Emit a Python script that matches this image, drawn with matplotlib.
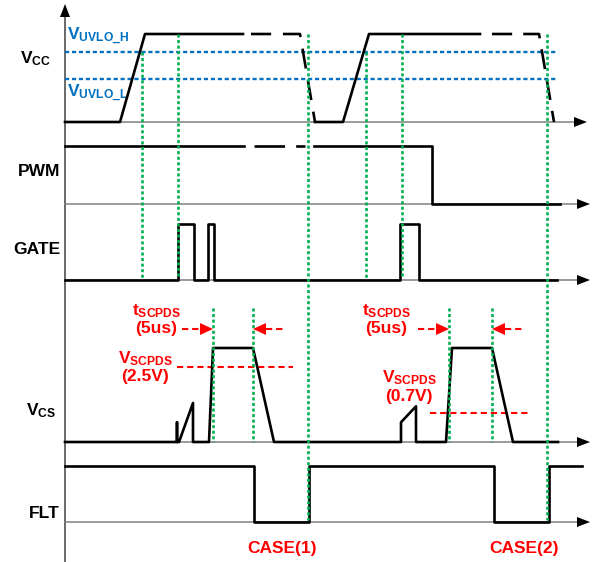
import matplotlib
matplotlib.use("Agg")
import matplotlib.pyplot as plt
from matplotlib.patches import Polygon

plt.rcParams['font.family'] = ['Liberation Sans', 'DejaVu Sans']
plt.rcParams['font.weight'] = 'bold'
plt.rcParams['mathtext.fontset'] = 'custom'
plt.rcParams['mathtext.bf'] = 'Liberation Sans:bold'
plt.rcParams['mathtext.rm'] = 'Liberation Sans:bold'
plt.rcParams['mathtext.it'] = 'Liberation Sans:bold'
plt.rcParams['lines.scale_dashes'] = False

# ---- waveform data: time along the diagram, level 0 = low, 1 = high ----
vcc_t = [65, 120, 145, 243]
vcc_l = [0, 0, 1, 1]
vcc_fade_t = [251, 300, 315]          # dashed part (supply going away)
vcc_fade_l = [1, 1, 0]
vcc2_t = [315, 343, 369, 480]
vcc2_l = [0, 0, 1, 1]
vcc2_fade_t = [492, 539, 554]
vcc2_fade_l = [1, 1, 0]
uvlo_levels = [0.795, 0.49]
uvlo_labels = [r'$\mathbf{V_{UVLO\_H}}$', r'$\mathbf{V_{UVLO\_L}}$']

pwm_t = [65, 244]
pwm_l = [1, 1]
pwm_dash_t = [254, 305]
pwm_dash_l = [1, 1]
pwm2_t = [314, 432, 432, 560]
pwm2_l = [1, 1, 0, 0]

gate_t = [65, 178, 178, 194, 194, 208, 208, 214, 214, 400, 400, 419, 419, 557]
gate_l = [0, 0, 1, 1, 0, 0, 1, 1, 0, 0, 1, 1, 0, 0]

vcs_t = [65, 177, 177, 177, 179, 193, 193, 209, 213, 253, 274,
         401, 401, 416, 416, 446, 452, 492, 513, 558]
vcs_l = [0, 0, 0.21, 0, 0, 0.415, 0, 0, 1, 1, 0,
         0, 0.21, 0.38, 0, 0, 1, 1, 0, 0]
vscpds_levels = [0.80, 0.31]
vscpds_spans = [(177, 293), (430, 530)]
vscpds_values = ['(2.5V)', '(0.7V)']
tscpds_t = [(213, 253), (449, 492)]

flt_t = [65, 254, 254, 309, 309, 494, 494, 549, 549, 582]
flt_l = [1, 1, 0, 0, 1, 1, 0, 0, 1, 1]

# timing marks (green): time, top level on VCC, bottom channel
mark_t = [142, 178, 308, 366, 402, 547]
mark_top = [uvlo_levels[0], 1, 1, uvlo_levels[0], 1, 1]
mark_bottom = ['GATE', 'GATE', 'FLT', 'GATE', 'GATE', 'FLT']

case_labels = ['CASE(1)', 'CASE(2)']
case_t = [282, 524]

# ---- layout (pixel rows of each channel: baseline, high level) ----
rows = {'VCC': (122, 34), 'PWM': (204, 146), 'GATE': (280, 224),
        'VCS': (442, 348), 'FLT': (522, 466)}
x0 = 65
GREEN = '#00B050'
BLUE = '#0070C0'
RED = '#FF0000'
FS = 12.5


def yy(ch, lv):
    b, h = rows[ch]
    if isinstance(lv, (list, tuple)):
        return [b - v * (b - h) for v in lv]
    return b - lv * (b - h)


fig = plt.figure(figsize=(5.94, 5.62), dpi=100)
ax = fig.add_axes([0, 0, 1, 1])
ax.set_xlim(0, 594)
ax.set_ylim(562, 0)
ax.axis('off')


def head(tip, direction, length=13, half=5, color='k'):
    x, y = tip
    if direction == 'right':
        pts = [(x, y), (x - length, y - half), (x - length, y + half)]
    elif direction == 'left':
        pts = [(x, y), (x + length, y - half), (x + length, y + half)]
    else:
        pts = [(x, y), (x - half, y + length), (x + half, y + length)]
    ax.add_patch(Polygon(pts, closed=True, color=color, lw=0, zorder=5))


# axes
ax.plot([x0, x0], [562, 14], color='#404040', lw=1.1, zorder=1)
head((x0, 4), 'up', length=13, half=5)
for ch, tip in [('VCC', 587), ('PWM', 590), ('GATE', 590), ('VCS', 590), ('FLT', 590)]:
    b = rows[ch][0]
    ax.plot([x0, tip - 10], [b, b], color='#808080', lw=1.1, zorder=1)
    head((tip, b), 'right', length=13, half=5)

# UVLO thresholds
for lv in uvlo_levels:
    ax.plot([x0, 557], [yy('VCC', lv)] * 2, color=BLUE, lw=1.7,
            linestyle=(0, (3, 2)), zorder=2)
ax.text(67, 40, uvlo_labels[0], color=BLUE, fontsize=FS, va='baseline', ha='left')
ax.text(67, 97, uvlo_labels[1], color=BLUE, fontsize=FS, va='baseline', ha='left')

# waveforms
wl = 1.9
ax.plot(vcc_t, yy('VCC', vcc_l), color='k', lw=wl, zorder=3)
ax.plot(vcc_fade_t, yy('VCC', vcc_fade_l), color='k', lw=wl, linestyle=(0, (14.5, 8.5)), zorder=3)
ax.plot(vcc2_t, yy('VCC', vcc2_l), color='k', lw=wl, zorder=3)
ax.plot(vcc2_fade_t, yy('VCC', vcc2_fade_l), color='k', lw=wl, linestyle=(0, (14.5, 8)), zorder=3)

ax.plot(pwm_t, yy('PWM', pwm_l), color='k', lw=wl, zorder=3)
ax.plot(pwm_dash_t, yy('PWM', pwm_dash_l), color='k', lw=wl, linestyle=(0, (22, 8)), zorder=3)
ax.plot(pwm2_t, yy('PWM', pwm2_l), color='k', lw=wl, zorder=3)

ax.plot(gate_t, yy('GATE', gate_l), color='k', lw=wl, zorder=3)
ax.plot(vcs_t, yy('VCS', vcs_l), color='k', lw=wl, zorder=3)
ax.plot(flt_t, yy('FLT', flt_l), color='k', lw=wl, zorder=3)

# timing marks
for t, top, bot in zip(mark_t, mark_top, mark_bottom):
    ax.plot([t, t], [yy('VCC', top), rows[bot][0] - 2], color=GREEN, lw=1.9,
            linestyle=(0, (2.2, 1.8)), zorder=4)
for a, b in tscpds_t:
    for t in (a, b):
        ax.plot([t, t], [yy('VCS', 1.43), rows['VCS'][0]], color=GREEN, lw=1.9,
                linestyle=(0, (2.2, 1.8)), zorder=4)

# short-circuit thresholds and annotations
for lv, (s, e) in zip(vscpds_levels, vscpds_spans):
    ax.plot([s, e], [yy('VCS', lv)] * 2, color=RED, lw=1.5,
            linestyle=(0, (4.5, 2.8)), zorder=2)

ay = 329
for (a, b) in tscpds_t:
    ax.plot([a - 31, a - 13], [ay, ay], color=RED, lw=1.5, linestyle=(0, (4.5, 2.8)), zorder=3)
    head((a, ay), 'right', length=13, half=6, color=RED)
    ax.plot([b + 13, b + 31], [ay, ay], color=RED, lw=1.5, linestyle=(0, (4.5, 2.8)), zorder=3)
    head((b, ay), 'left', length=13, half=6, color=RED)

ax.text(157, 315, r'$\mathbf{t_{SCPDS}}$', color=RED, fontsize=FS, ha='center', va='baseline')
ax.text(156, 328, '(5us)', color=RED, fontsize=FS, ha='center', va='center')
ax.text(146, 363, r'$\mathbf{V_{SCPDS}}$', color=RED, fontsize=FS, ha='center', va='baseline')
ax.text(145, 377, vscpds_values[0], color=RED, fontsize=FS, ha='center', va='center')

ax.text(387, 315, r'$\mathbf{t_{SCPDS}}$', color=RED, fontsize=FS, ha='center', va='baseline')
ax.text(386, 328, '(5us)', color=RED, fontsize=FS, ha='center', va='center')
ax.text(410, 382, r'$\mathbf{V_{SCPDS}}$', color=RED, fontsize=FS, ha='center', va='baseline')
ax.text(409, 396, vscpds_values[1], color=RED, fontsize=FS, ha='center', va='center')

for lab, t in zip(case_labels, case_t):
    ax.text(t, 548, lab, color=RED, fontsize=FS, ha='center', va='center')

# channel names
ax.text(51, 63, r'$\mathbf{V_{CC}}$', fontsize=FS, ha='right', va='baseline')
ax.text(60, 171, 'PWM', fontsize=FS, ha='right', va='center')
ax.text(60, 249, 'GATE', fontsize=FS, ha='right', va='center')
ax.text(56, 415, r'$\mathbf{V_{CS}}$', fontsize=FS, ha='right', va='baseline')
ax.text(60, 513, 'FLT', fontsize=FS, ha='right', va='center')

fig.savefig('out.png', dpi=100)
